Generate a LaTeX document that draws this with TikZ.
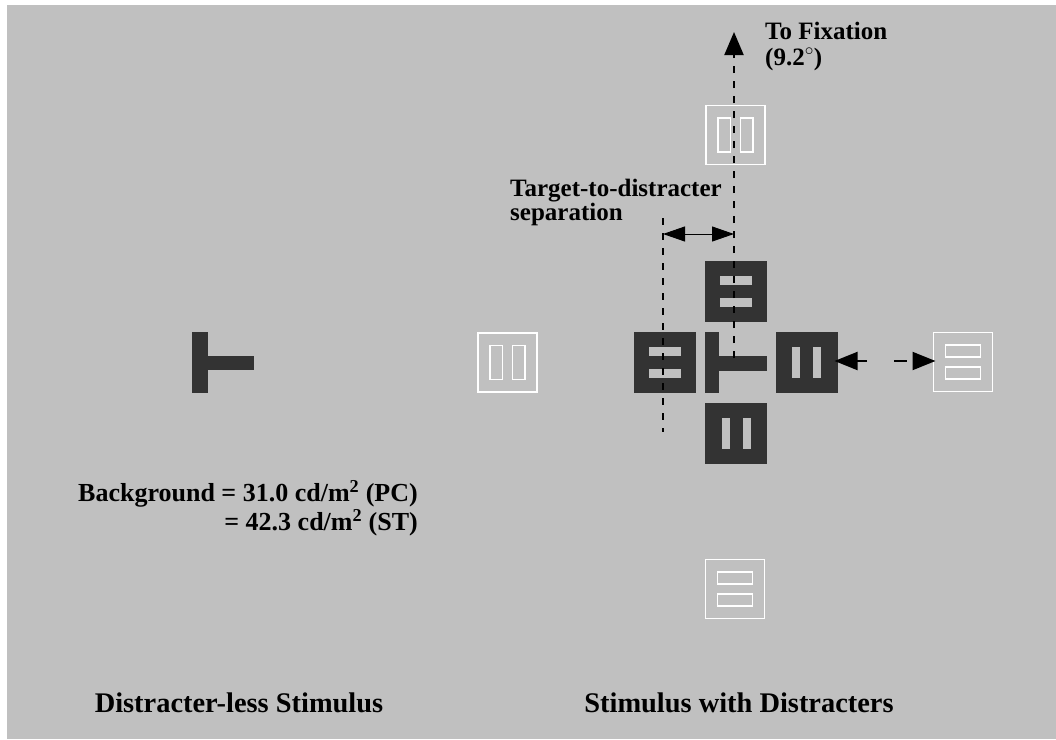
\documentclass[tikz,border=0pt]{standalone}
\usepackage{fontspec}
\setmainfont{Liberation Serif}
\usetikzlibrary{arrows.meta}
\definecolor{bg}{HTML}{C0C0C0}
\definecolor{dk}{HTML}{333333}
\newcommand\darkH[2]{%
  \node[darkbox] (#1) at (#2) {};
  \fill[bg] ([shift={(-16,-15.5)}]#1.center) rectangle ([shift={(16,-6.5)}]#1.center);
  \fill[bg] ([shift={(-16,6.5)}]#1.center) rectangle ([shift={(16,15.5)}]#1.center);}
\newcommand\darkV[2]{%
  \node[darkbox] (#1) at (#2) {};
  \fill[bg] ([shift={(-14.5,-15.5)}]#1.center) rectangle ([shift={(-6.5,15.5)}]#1.center);
  \fill[bg] ([shift={(6.5,-15.5)}]#1.center) rectangle ([shift={(14.5,15.5)}]#1.center);}
\newcommand\whiteV[2]{%
  \node[whitebox] (#1) at (#2) {};
  \draw[whitebar] ([shift={(-17.5,-17)}]#1.center) rectangle ([shift={(-5,17)}]#1.center);
  \draw[whitebar] ([shift={(5,-17)}]#1.center) rectangle ([shift={(17.5,17)}]#1.center);}
\newcommand\whiteH[2]{%
  \node[whitebox] (#1) at (#2) {};
  \draw[whitebar] ([shift={(-17.5,-17)}]#1.center) rectangle ([shift={(17.5,-5)}]#1.center);
  \draw[whitebar] ([shift={(-17.5,5)}]#1.center) rectangle ([shift={(17.5,17)}]#1.center);}
\begin{document}
\begin{tikzpicture}[x=1pt,y=-1pt,
  darkbox/.style={fill=dk, draw=none, minimum width=62pt, minimum height=61pt, inner sep=0pt, outer sep=0pt},
  whitebox/.style={draw=white, line width=1.8pt, minimum width=59pt, minimum height=59pt, inner sep=0pt, outer sep=0pt},
  whitebar/.style={draw=white, line width=1.6pt},
  dashline/.style={draw=black, line width=2pt, dash pattern=on 7pt off 8pt},
  lbl/.style={inner sep=0pt, text=black},
  title/.style={font=\fontsize{28.4}{30}\selectfont\bfseries, inner sep=0pt, text=black},
  bigtip/.style={-{Triangle[length=23pt,width=18pt]}},
]
\useasboundingbox (0,0) rectangle (1056,739);
\fill[white] (0,0) rectangle (1056,739);
\fill[bg] (7,5) rectangle (1056,739);

% left stimulus: T
\fill[dk] (192.3,332.3) rectangle (207.7,393.3);
\fill[dk] (207.7,355.7) rectangle (254,370);
\coordinate (lt) at (223,362);

% white distracters
\whiteV{wm}{507.3,362.3}
\whiteV{wt}{735.5,135}
\whiteH{wb}{735,589}
\whiteH{wr}{963,362}

% dark distracters
\darkH{tb}{736,291}
\darkH{lb}{664.7,362.2}
\darkV{rb}{806.5,362.2}
\darkV{bb}{736,433.5}

% centre target T
\fill[dk] (705,331.7) rectangle (719.3,392.7);
\fill[dk] (719.3,355.7) rectangle (767,371);
\coordinate (tcen) at (734,358);

% dashed lines
\coordinate (fixtip) at (734,32);
\draw[dashline, -{Triangle[length=23pt,width=19pt]}] (tcen) -- (fixtip);
\coordinate (ldtop) at (663,218);
\coordinate (ldbot) at (663,432);
\draw[dashline] (ldtop) -- (ldbot);

% separation arrow
\coordinate (sepL) at (663,234);
\coordinate (sepR) at (734,234);
\draw[line width=1pt, {Triangle[length=22pt,width=15pt]}-{Triangle[length=22pt,width=15pt]}] (sepL) -- (sepR);

% right arrows
\coordinate (ra1) at (867,361);
\coordinate (ra2) at (894,361);
\draw[line width=2pt, bigtip] (ra1) -- ([xshift=-3pt]rb.east |- ra1);
\draw[line width=2pt, bigtip, dash pattern=on 13pt off 10pt] (ra2) -- ([xshift=2pt]wr.west |- ra2);

% labels
\node[lbl, font=\fontsize{25}{26}\selectfont\bfseries, anchor=base west, align=left] (fix) at (765,65) {To Fixation\\(9.2$^{\circ}$)};
\node[lbl, font=\fontsize{25}{23.5}\selectfont\bfseries, anchor=base west, align=left] (sep) at (510,220) {Target-to-distracter\\separation};
\node[lbl, font=\fontsize{26}{29}\selectfont\bfseries, anchor=base east, align=right] (bgtxt) at (418,530.7)
  {Background = 31.0 cd/m\textsuperscript{2} (PC)\\= 42.3 cd/m\textsuperscript{2} (ST)};
\node[title, anchor=base] (t1) at (239,712) {Distracter-less Stimulus};
\node[title, anchor=base] (t2) at (739,712) {Stimulus with Distracters};
\end{tikzpicture}
\end{document}
